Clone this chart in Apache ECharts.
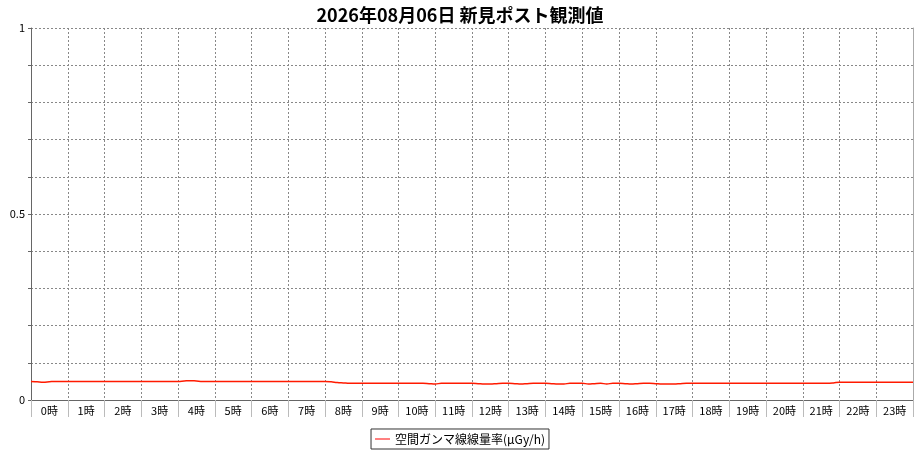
<!DOCTYPE html>
<html>
<head>
<meta charset="utf-8">
<script src="https://cdn.jsdelivr.net/npm/echarts@6/dist/echarts.min.js"></script>
<style>
html,body{margin:0;padding:0;background:#fff;}
#chart{width:920px;height:450px;}
</style>
</head>
<body>
<div id="chart"></div>
<script>
const titleText = '2026年08月06日 新見ポスト観測値';
const seriesName = '空間ガンマ線線量率(μGy/h)';
const hourLabels = ['0時','1時','2時','3時','4時','5時','6時','7時','8時','9時','10時','11時',
  '12時','13時','14時','15時','16時','17時','18時','19時','20時','21時','22時','23時'];
const yTickLabels = [0, 0.5, 1];
const sampleMinutes = 10;
// 10-minute readings, one row per hour (last value = 24:00)
const doseRate = [
  0.050,0.049,0.048,0.049,0.050,0.050, // 0
  0.050,0.050,0.050,0.050,0.050,0.050, // 1
  0.050,0.050,0.050,0.050,0.050,0.050, // 2
  0.050,0.050,0.050,0.050,0.050,0.050, // 3
  0.050,0.051,0.052,0.051,0.050,0.050, // 4
  0.050,0.050,0.050,0.050,0.050,0.050, // 5
  0.050,0.050,0.050,0.050,0.050,0.050, // 6
  0.050,0.050,0.050,0.050,0.050,0.050, // 7
  0.050,0.049,0.047,0.046,0.045,0.045, // 8
  0.045,0.045,0.045,0.045,0.045,0.045, // 9
  0.045,0.045,0.045,0.045,0.045,0.044, // 10
  0.043,0.045,0.045,0.045,0.045,0.045, // 11
  0.045,0.044,0.043,0.043,0.044,0.045, // 12
  0.045,0.044,0.043,0.044,0.045,0.045, // 13
  0.045,0.044,0.043,0.043,0.045,0.045, // 14
  0.045,0.043,0.044,0.045,0.043,0.045, // 15
  0.045,0.044,0.043,0.044,0.045,0.045, // 16
  0.044,0.043,0.043,0.043,0.044,0.045, // 17
  0.045,0.045,0.045,0.045,0.045,0.045, // 18
  0.045,0.045,0.045,0.045,0.045,0.045, // 19
  0.045,0.045,0.045,0.045,0.045,0.045, // 20
  0.045,0.045,0.045,0.045,0.045,0.046, // 21
  0.048,0.048,0.048,0.048,0.048,0.048, // 22
  0.048,0.048,0.048,0.048,0.048,0.048, // 23
  0.048
];

const points = doseRate.map((v, i) => [i * sampleMinutes / 60, v]);
const FONT = '"Noto Sans CJK JP", "DejaVu Sans", sans-serif';

const chart = echarts.init(document.getElementById('chart'), null, {renderer: 'canvas'});
chart.setOption({
  animation: false,
  backgroundColor: '#fff',
  textStyle: {fontFamily: FONT},
  title: {
    text: titleText,
    left: 'center',
    top: 1,
    textStyle: {fontSize: 18, fontWeight: 'bold', color: '#000', fontFamily: FONT}
  },
  legend: {
    bottom: 1,
    left: 'center',
    data: [seriesName],
    icon: 'rect',
    itemWidth: 15,
    itemHeight: 1,
    itemGap: 5,
    borderColor: '#333',
    borderWidth: 1,
    borderRadius: 0,
    padding: [4, 4, 4, 4],
    textStyle: {fontSize: 12, color: '#000', fontFamily: FONT}
  },
  grid: {left: 31, right: 7, top: 28, bottom: 50, containLabel: false},
  xAxis: [
    {
      type: 'category',
      data: hourLabels,
      boundaryGap: true,
      axisLine: {show: true, lineStyle: {color: '#666', width: 1}},
      axisTick: {show: true, interval: 0, length: 17, lineStyle: {color: '#bbb'}},
      axisLabel: {interval: 0, fontSize: 11, color: '#000', margin: 5, fontFamily: FONT},
      splitLine: {show: true, interval: 0, lineStyle: {color: '#888', type: [2, 2], width: 1}}
    },
    {
      type: 'value',
      min: 0,
      max: 24,
      show: false
    }
  ],
  yAxis: [
    {
      type: 'value',
      min: 0,
      max: 1,
      interval: 0.1,
      axisLine: {show: true, lineStyle: {color: '#666', width: 1}},
      axisTick: {show: true, length: 3, lineStyle: {color: '#666'}},
      axisLabel: {
        fontSize: 11, color: '#000', margin: 6, fontFamily: FONT,
        formatter: function (v) {
          const r = Math.round(v * 100) / 100;
          return yTickLabels.indexOf(r) >= 0 ? String(r) : '';
        }
      },
      splitLine: {show: true, lineStyle: {color: '#888', type: [2, 2], width: 1}}
    },
    {
      type: 'value',
      position: 'right',
      min: 0,
      max: 1,
      axisLine: {show: true, lineStyle: {color: '#aaa', width: 1}},
      axisTick: {show: false},
      axisLabel: {show: false},
      splitLine: {show: false}
    }
  ],
  series: [
    {
      name: seriesName,
      type: 'line',
      xAxisIndex: 1,
      yAxisIndex: 0,
      data: points,
      smooth: 0.4,
      showSymbol: false,
      symbol: 'none',
      color: '#ff0000',
      lineStyle: {color: '#ff1a00', width: 1.5}
    }
  ]
});
</script>
</body>
</html>
